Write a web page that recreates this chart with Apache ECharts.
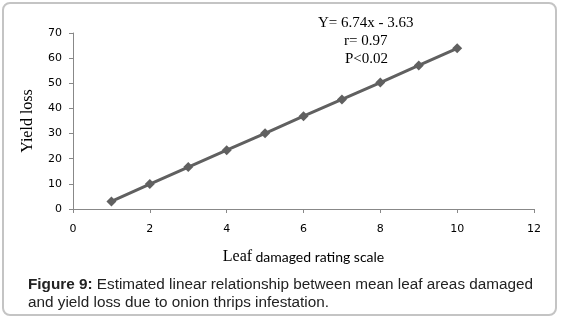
<!DOCTYPE html>
<html>
<head>
<meta charset="utf-8">
<script src="https://cdn.jsdelivr.net/npm/echarts@6/dist/echarts.min.js"></script>
<style>
  html, body { margin: 0; padding: 0; background: #fff; }
  #chart { width: 561px; height: 322px; }
</style>
</head>
<body>
<div id="chart"></div>
<script>
// Leaf damage rating (x) against yield loss (y)
const ratingScale = [1, 2, 3, 4, 5, 6, 7, 8, 9, 10];
const yieldLoss = [3.0, 9.9, 16.7, 23.4, 30.1, 36.9, 43.6, 50.3, 57.1, 63.9];
const xTicks = { min: 0, max: 12, interval: 2 };
const yTicks = { min: 0, max: 70, interval: 10 };
const equationLines = ['Y= 6.74x - 3.63', 'r= 0.97', 'P<0.02'];
const captionBold = 'Figure 9:';
const captionLine1 = ' Estimated linear relationship between mean leaf areas damaged';
const captionLine2 = 'and yield loss due to onion thrips infestation.';

const chart = echarts.init(document.getElementById('chart'), null, { renderer: 'canvas' });

const tickLabelStyle = {
  fontFamily: 'DejaVu Sans',
  fontSize: 11,
  color: '#000'
};

chart.setOption({
  animation: false,
  backgroundColor: '#fff',
  grid: { left: 73, top: 33, right: 27, bottom: 113 },
  xAxis: {
    type: 'value',
    min: xTicks.min,
    max: xTicks.max,
    interval: xTicks.interval,
    name: '{a|Leaf} {b|damaged rating scale}',
    nameLocation: 'middle',
    nameGap: 40,
    nameTextStyle: {
      rich: {
        a: { fontFamily: 'Liberation Serif', fontSize: 16, color: '#000' },
        b: { fontFamily: 'Lato', fontSize: 14, color: '#000' }
      }
    },
    axisLine: { lineStyle: { color: '#888', width: 1 } },
    axisTick: { show: true, inside: false, length: 4, lineStyle: { color: '#888' } },
    axisLabel: Object.assign({ margin: 15 }, tickLabelStyle),
    splitLine: { show: false }
  },
  yAxis: {
    type: 'value',
    min: yTicks.min,
    max: yTicks.max,
    interval: yTicks.interval,
    name: 'Yield loss',
    nameLocation: 'middle',
    nameGap: 37,
    nameTextStyle: { fontFamily: 'Liberation Serif', fontSize: 16, color: '#000' },
    axisLine: { show: true, lineStyle: { color: '#888', width: 1 } },
    axisTick: { show: true, inside: false, length: 4, lineStyle: { color: '#888' } },
    axisLabel: Object.assign({ margin: 11 }, tickLabelStyle),
    splitLine: { show: false }
  },
  series: [{
    type: 'line',
    data: ratingScale.map((x, i) => [x, yieldLoss[i]]),
    symbol: 'diamond',
    symbolSize: 10,
    showAllSymbol: true,
    lineStyle: { color: '#606060', width: 3 },
    itemStyle: { color: '#606060' }
  }],
  graphic: [
    {
      type: 'rect',
      shape: { x: 3, y: 3, width: 553, height: 312, r: 7 },
      style: { fill: 'none', stroke: '#c4c4c4', lineWidth: 2 },
      silent: true
    },
    {
      type: 'text',
      left: 318, top: 16,
      style: { text: equationLines[0], font: '15px "Liberation Serif"', fill: '#000' }
    },
    {
      type: 'text',
      left: 344, top: 34,
      style: { text: equationLines[1], font: '15px "Liberation Serif"', fill: '#000' }
    },
    {
      type: 'text',
      left: 345, top: 51.5,
      style: { text: equationLines[2], font: '15px "Liberation Serif"', fill: '#000' }
    },
    {
      type: 'text',
      left: 28, top: 277,
      style: {
        text: '{b|' + captionBold + '}{n|' + captionLine1 + '}',
        rich: {
          b: { fontFamily: 'Liberation Sans', fontSize: 15.3, fontWeight: 'bold', fill: '#222' },
          n: { fontFamily: 'Liberation Sans', fontSize: 15.3, fill: '#222' }
        }
      }
    },
    {
      type: 'text',
      left: 28, top: 295,
      style: { text: captionLine2, font: '15.3px "Liberation Sans"', fill: '#222' }
    }
  ]
});
</script>
</body>
</html>
